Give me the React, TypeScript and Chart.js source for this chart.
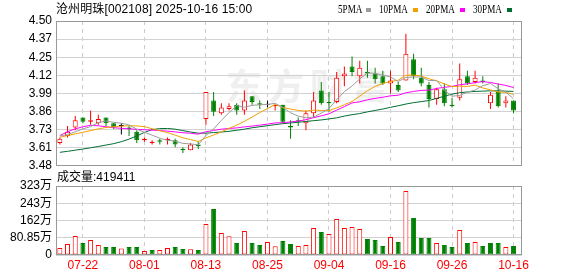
import React, { useEffect, useRef } from 'react';
import { Chart, registerables } from 'chart.js';

Chart.register(...registerables);

const chartTitle = '沧州明珠[002108] 2025-10-16 15:00';
const volumeLabel = '成交量';

const dates = ['07-17','07-18','07-21','07-22','07-23','07-24','07-25','07-28','07-29','07-30','07-31','08-01','08-04','08-05','08-06','08-07','08-08','08-11','08-12','08-13','08-14','08-15','08-18','08-19','08-20','08-21','08-22','08-25','08-26','08-27','08-28','08-29','09-01','09-02','09-03','09-04','09-05','09-08','09-09','09-10','09-11','09-12','09-15','09-16','09-17','09-18','09-19','09-22','09-23','09-24','09-25','09-26','09-29','09-30','10-09','10-10','10-13','10-14','10-15','10-16'];

const opens = [3.64,3.69,3.75,3.82,3.79,3.78,3.82,3.78,3.76,3.75, 3.72,3.66,3.64,3.66,3.66,3.66,3.60,3.59,3.63,3.81, 3.94,3.85,3.88,3.91,3.87,3.97,3.92,3.91,3.90,3.91, 3.76,3.80,3.78,3.85,4.01,3.93,3.93,4.11,4.18,4.11, 4.14,4.13,4.11,4.06,4.05,4.08,4.23,4.10,4.05,3.95, 4.02,3.91,3.96,4.11,4.07,4.08,3.92,4.00,3.92,3.94];
const highs = [3.68,3.76,3.83,3.82,3.87,3.84,3.82,3.78,3.78,3.76, 3.73,3.68,3.66,3.67,3.68,3.67,3.61,3.64,3.65,4.00, 4.00,3.92,3.92,3.92,4.01,3.97,3.94,3.94,3.91,3.91, 3.80,3.82,3.87,4.00,4.07,4.00,4.14,4.18,4.25,4.22, 4.22,4.17,4.15,4.15,4.07,4.41,4.27,4.17,4.07,4.03, 4.06,3.96,4.20,4.15,4.15,4.11,4.00,4.06,3.97,3.94];
const lows = [3.63,3.68,3.73,3.78,3.77,3.77,3.76,3.74,3.70,3.69, 3.64,3.65,3.63,3.63,3.63,3.61,3.57,3.59,3.60,3.77, 3.83,3.84,3.87,3.84,3.84,3.91,3.88,3.89,3.87,3.78, 3.67,3.76,3.73,3.82,3.91,3.86,3.92,4.04,4.11,4.06, 4.10,4.06,4.05,3.99,4.00,4.08,4.09,4.04,3.89,3.91, 3.90,3.89,3.94,4.05,4.06,4.06,3.88,3.89,3.89,3.85];
const closes = [3.67,3.72,3.80,3.79,3.80,3.81,3.78,3.75,3.76,3.74, 3.66,3.67,3.65,3.65,3.67,3.63,3.59,3.63,3.62,4.00, 3.86,3.89,3.90,3.87,3.94,3.93,3.91,3.91,3.91,3.79, 3.75,3.79,3.85,3.94,3.92,3.92,4.10,4.13,4.14,4.17, 4.13,4.09,4.06,4.08,4.01,4.27,4.11,4.06,3.95,4.02, 3.92,3.90,4.09,4.06,4.10,4.07,3.98,3.90,3.94,3.87];

const volumes = [330000,520000,890000,560000,700000,470000,380000,380000,310000,380000, 380000,190000,230000,230000,330000,375000,280000,266000,234000,1450000, 2160000,1030000,875000,560000,1125000,560000,470000,610000,406000,656000, 516000,420000,470000,1265000,1080000,984000,1687000,1265000,1310000,1220000, 750000,700000,420000,840000,610000,3000000,1730000,800000,800000,560000, 470000,375000,1170000,560000,610000,420000,560000,560000,375000,419411];

const ma5 = [3.69,3.70,3.72,3.74,3.756,3.784,3.796,3.786,3.780,3.768, 3.738,3.716,3.696,3.674,3.660,3.654,3.638,3.634,3.628,3.694, 3.740,3.800,3.854,3.904,3.892,3.906,3.910,3.912,3.920,3.890, 3.854,3.830,3.818,3.824,3.850,3.884,3.946,4.002,4.042,4.092, 4.134,4.132,4.118,4.106,4.074,4.102,4.106,4.106,4.080,4.082, 4.012,3.970,3.976,3.998,4.014,4.044,4.060,4.022,3.998,3.952];
const ma10 = [3.681,3.693,3.705,3.716,3.728,3.740,3.750,3.755,3.759,3.762, 3.761,3.756,3.741,3.727,3.714,3.696,3.677,3.665,3.651,3.677, 3.697,3.719,3.744,3.766,3.793,3.823,3.855,3.883,3.912,3.891, 3.880,3.870,3.865,3.872,3.870,3.869,3.888,3.910,3.933,3.971, 4.009,4.039,4.060,4.074,4.083,4.118,4.119,4.112,4.093,4.078, 4.057,4.038,4.041,4.039,4.048,4.028,4.015,3.999,3.998,3.983];
const ma20 = [3.693,3.720,3.740,3.755,3.765,3.762,3.755,3.748,3.744,3.740, 3.737,3.734,3.731,3.728,3.724,3.719,3.713,3.709,3.703,3.720, 3.729,3.738,3.743,3.747,3.754,3.760,3.766,3.774,3.782,3.784, 3.789,3.795,3.805,3.819,3.832,3.846,3.872,3.897,3.923,3.931, 3.945,3.955,3.963,3.973,3.977,3.994,4.004,4.011,4.013,4.025, 4.033,4.039,4.051,4.057,4.066,4.073,4.067,4.056,4.046,4.031];
const ma30 = [3.575,3.582,3.590,3.598,3.607,3.616,3.626,3.636,3.650,3.668, 3.690,3.715,3.735,3.742,3.743,3.738,3.728,3.718,3.710,3.710, 3.714,3.718,3.723,3.730,3.738,3.748,3.755,3.763,3.770,3.777, 3.782,3.787,3.792,3.798,3.803,3.810,3.818,3.830,3.840,3.848, 3.860,3.870,3.880,3.892,3.903,3.915,3.925,3.932,3.940,3.955, 3.970,3.985,3.995,4.000,4.004,4.006,4.008,4.008,4.006,4.004];

const priceTicks = [3.48, 3.6075, 3.735, 3.8625, 3.99, 4.1175, 4.245, 4.3725, 4.5];
const priceTickLabels = ['3.48','3.61','3.73','3.86','3.99','4.12','4.25','4.37','4.50'];
const volumeTicks = [0, 808500, 1617000, 2425500, 3234000];
const volumeTickLabels = ['0','80.85万','162万','243万','323万'];
const xTickLabels = ['07-22','08-01','08-13','08-25','09-04','09-16','09-26','10-16'];

const maNames = ['5PMA','10PMA','20PMA','30PMA'];
const maColors = ['#9c9c9c','#f2a000','#ff00ff','#006e32'];

const RED = '#ff0000';
const GREEN = '#008000';
const BLACK = '#000000';
const FONT = "'Liberation Sans', 'Noto Sans CJK SC', sans-serif";

const framePlugin = {
  id: 'frame',
  afterDraw(chart: any) {
    const { ctx, chartArea: a } = chart;
    ctx.save();
    ctx.strokeStyle = '#999999';
    ctx.lineWidth = 1;
    const l = Math.round(a.left) + 0.5;
    const t = Math.round(a.top) + 0.5;
    const r = Math.round(a.right) - 0.5;
    const b = Math.round(a.bottom) - 0.5;
    ctx.strokeRect(l, t, r - l, b - t);
    ctx.restore();
  },
};

export default function App() {
  const priceRef = useRef<HTMLCanvasElement>(null);
  const volRef = useRef<HTMLCanvasElement>(null);

  useEffect(() => {
    const idx = dates.map((_, i) => i);
    const dir = closes.map((c, i) => (c > opens[i] ? 1 : c < opens[i] ? -1 : 0));
    const candleColor = dir.map((d) => (d > 0 ? RED : d < 0 ? GREEN : BLACK));
    const bodyFill = dir.map((d) => (d > 0 ? '#ffffff' : d < 0 ? GREEN : BLACK));
    const volUp = volumes.map((_, i) => (i === 0 ? closes[0] >= opens[0] : closes[i] >= closes[i - 1]));
    const tickIndices = xTickLabels.map((l) => dates.indexOf(l));
    const mas = [ma5, ma10, ma20, ma30];

    const xScale = (showLabels: boolean, height: number) => ({
      type: 'linear',
      offset: false,
      min: -0.5,
      max: dates.length + 0.1,
      afterBuildTicks: (s: any) => {
        s.ticks = tickIndices.map((v) => ({ value: v }));
      },
      afterFit: (s: any) => {
        s.height = height;
      },
      grid: { color: '#cccccc', drawTicks: false, lineWidth: 1, offset: false },
      border: { display: false, dash: [4, 4] },
      ticks: {
        display: showLabels,
        color: RED,
        font: { family: FONT, size: 12 },
        padding: 3,
        autoSkip: false,
        maxRotation: 0,
        minRotation: 0,
        callback: (v: any) => dates[v] ?? '',
      },
    });

    const yScale = (ticks: number[], labels: string[]) => ({
      min: ticks[0],
      max: ticks[ticks.length - 1],
      afterBuildTicks: (s: any) => {
        s.ticks = ticks.map((v) => ({ value: v }));
      },
      afterFit: (s: any) => {
        s.width = 56;
      },
      grid: { color: '#d2d2d2', drawTicks: false },
      border: { display: false },
      ticks: {
        color: BLACK,
        font: { family: FONT, size: 12 },
        padding: 4,
        autoSkip: false,
        callback: (_v: any, i: number) => labels[i],
      },
    });

    const price = new Chart(priceRef.current as HTMLCanvasElement, {
      type: 'bar',
      data: {
        datasets: [
          ...mas.map((arr, k) => ({
            type: 'line',
            label: maNames[k],
            data: idx.map((i) => ({ x: i, y: arr[i] })),
            borderColor: maColors[k],
            borderWidth: 1,
            pointRadius: 0,
            tension: 0,
            order: 0,
          })),
          {
            type: 'bar',
            label: 'body',
            data: idx.map((i) => ({ x: i, y: [opens[i], closes[i]] })),
            backgroundColor: bodyFill,
            borderColor: candleColor,
            borderWidth: 1,
            borderSkipped: false,
            barThickness: 5,
            minBarLength: 1,
            inflateAmount: 0,
            grouped: false,
            order: 1,
          },
          {
            type: 'bar',
            label: 'wick',
            data: idx.map((i) => ({ x: i, y: [lows[i], highs[i]] })),
            backgroundColor: candleColor,
            borderWidth: 0,
            barThickness: 1,
            inflateAmount: 0,
            grouped: false,
            order: 2,
          },
        ],
      } as any,
      options: {
        responsive: false,
        animation: false,
        devicePixelRatio: 1,
        layout: { padding: { left: 0, right: 56, top: 21, bottom: 0 } },
        plugins: { legend: { display: false }, tooltip: { enabled: false } },
        scales: {
          x: xScale(false, 7) as any,
          y: yScale(priceTicks, priceTickLabels) as any,
        },
      },
      plugins: [framePlugin],
    });

    const vol = new Chart(volRef.current as HTMLCanvasElement, {
      type: 'bar',
      data: {
        datasets: [
          {
            label: 'volume',
            data: idx.map((i) => ({ x: i, y: volumes[i] })),
            backgroundColor: volUp.map((u) => (u ? '#ffffff' : GREEN)),
            borderColor: volUp.map((u) => (u ? RED : GREEN)),
            borderWidth: 1,
            borderSkipped: false,
            barThickness: 5,
            inflateAmount: 0,
            grouped: false,
          },
        ],
      } as any,
      options: {
        responsive: false,
        animation: false,
        devicePixelRatio: 1,
        layout: { padding: { left: 0, right: 56, top: 14, bottom: 0 } },
        plugins: { legend: { display: false }, tooltip: { enabled: false } },
        scales: {
          x: xScale(true, 21) as any,
          y: yScale(volumeTicks, volumeTickLabels) as any,
        },
      },
      plugins: [framePlugin],
    });

    return () => {
      price.destroy();
      vol.destroy();
    };
  }, []);

  return (
    <div
      style={{
        position: 'fixed',
        left: 0,
        top: 0,
        width: 578,
        height: 276,
        background: '#ffffff',
        overflow: 'hidden',
        fontFamily: FONT,
        color: '#000',
      }}
    >
      <div
        style={{
          position: 'absolute',
          left: 226,
          top: 62,
          fontSize: 36,
          fontWeight: 700,
          color: '#efefef',
          letterSpacing: 6,
          whiteSpace: 'nowrap',
          lineHeight: '44px',
          fontFamily: "'Noto Sans CJK SC', sans-serif",
        }}
      >
        东方财富
      </div>
      <canvas ref={priceRef} width={578} height={177} style={{ position: 'absolute', left: 0, top: 0 }} />
      <canvas ref={volRef} width={578} height={104} style={{ position: 'absolute', left: 0, top: 172 }} />
      <div
        style={{
          position: 'absolute',
          left: 56,
          top: 3,
          fontSize: 12,
          lineHeight: '12px',
          letterSpacing: 0.12,
          whiteSpace: 'nowrap',
        }}
      >
        {chartTitle}
      </div>
      <div
        style={{
          position: 'absolute',
          left: 338,
          top: 3,
          display: 'flex',
          alignItems: 'center',
          fontSize: 12,
          lineHeight: '12px',
          whiteSpace: 'nowrap',
        }}
      >
        {maNames.map((name, k) => (
          <span key={name} style={{ display: 'flex', alignItems: 'center', marginRight: 8 }}>
            <span style={{ display: 'inline-block', width: name.length * 6, overflow: 'visible' }}>
              <span
                style={{
                  display: 'inline-block',
                  transform: 'scaleX(0.76)',
                  transformOrigin: 'left center',
                  fontFamily: "'Liberation Serif', serif",
                }}
              >
                {name}
              </span>
            </span>
            <span style={{ display: 'inline-block', width: 5, height: 4, background: maColors[k], marginLeft: 4, marginTop: 2 }} />
          </span>
        ))}
      </div>
      <div style={{ position: 'absolute', left: 57, top: 171, fontSize: 12, lineHeight: '12px', whiteSpace: 'nowrap' }}>
        {volumeLabel}:{volumes[volumes.length - 1]}
      </div>
    </div>
  );
}
